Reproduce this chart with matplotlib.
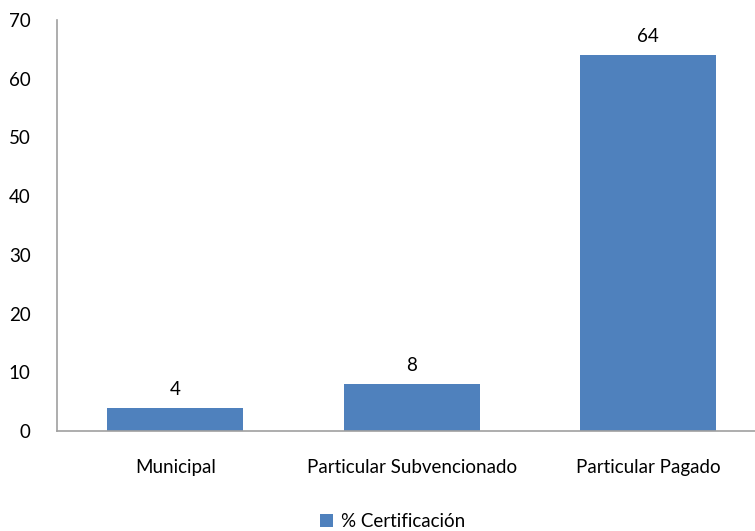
import matplotlib.pyplot as plt
import numpy as np

plt.rcParams['font.family'] = ['Lato', 'DejaVu Sans']

categories = ['Municipal', 'Particular Subvencionado', 'Particular Pagado']
values = [4, 8, 64]
series_name = '% Certificación'

fig = plt.figure(figsize=(7.55, 5.31), dpi=100)
ax = fig.add_axes([0.0755, 0.1883, 0.9397, 0.774])

x = np.arange(len(categories))
bars = ax.bar(x, values, width=0.575, color='#4F81BD', label=series_name)
for b, v in zip(bars, values):
    ax.text(b.get_x() + b.get_width() / 2, v + 1.7, str(v), ha='center', va='bottom', fontsize=13.5)

ax.set_xlim(-0.5, 2.5)
ax.set_ylim(0, 70)
ax.set_yticks(range(0, 71, 10))
ax.set_xticks(x)
ax.set_xticklabels(categories)
ax.tick_params(axis='both', length=0, labelsize=13.5)
ax.tick_params(axis='y', pad=19)
ax.tick_params(axis='x', pad=20)
for s in ['top', 'right']:
    ax.spines[s].set_visible(False)
for s in ['left', 'bottom']:
    ax.spines[s].set_color('#A0A0A0')
    ax.spines[s].set_linewidth(1.2)

fig.legend(loc='lower center', bbox_to_anchor=(0.52, -0.03), frameon=False, fontsize=13.5,
           handlelength=0.7, handleheight=0.7, handletextpad=0.4)

fig.savefig('out.png', dpi=100)
